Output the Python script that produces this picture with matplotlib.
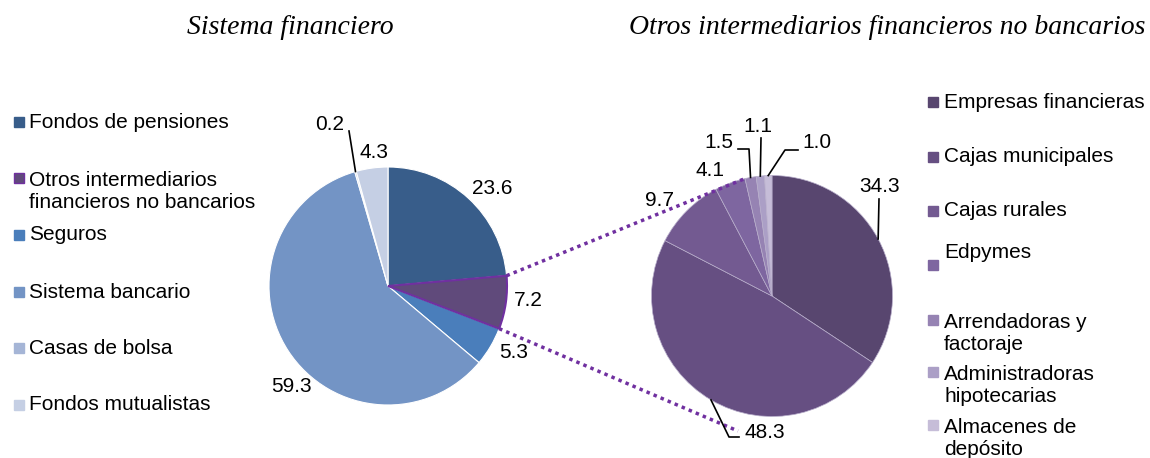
import numpy as np
import matplotlib
matplotlib.use("Agg")
import matplotlib.pyplot as plt
from matplotlib.patches import Rectangle

# ── data ─────────────────────────────────────
left_labels = ["Fondos de pensiones", "Otros intermediarios\nfinancieros no bancarios",
               "Seguros", "Sistema bancario", "Casas de bolsa", "Fondos mutualistas"]
left_values = [23.6, 7.2, 5.3, 59.3, 0.2, 4.3]
left_colors = ["#385D8A", "#604A7B", "#4A7EBB", "#7394C5", "#A5B5D6", "#C5CFE4"]

right_labels = ["Empresas financieras", "Cajas municipales", "Cajas rurales", "Edpymes",
                "Arrendadoras y\nfactoraje", "Administradoras\nhipotecarias",
                "Almacenes de\ndepósito"]
right_values = [34.3, 48.3, 9.7, 4.1, 1.5, 1.1, 1.0]
right_colors = ["#58466F", "#664F82", "#735A91", "#7E66A0", "#9683B3", "#AB9FC6", "#C6BDD8"]

W, H = 1150, 458
plt.rcParams["font.family"] = ["Liberation Sans", "DejaVu Sans"]
FS = 15

fig = plt.figure(figsize=(W / 100, H / 100), dpi=100)
ax = fig.add_axes([0, 0, 1, 1])

def py(y):  # pixel row -> data y
    return H - y

c_left, r_left = (388, py(286)), 119
c_right, r_right = (772, py(296)), 120.5

wl, _ = ax.pie(left_values, colors=left_colors, startangle=90, counterclock=False,
               center=c_left, radius=r_left, frame=True,
               wedgeprops=dict(edgecolor="white", linewidth=0.8))
wl[1].set_edgecolor("#7030A0")
wl[1].set_linewidth(1.5)
wl[1].set_zorder(3)

wr, _ = ax.pie(right_values, colors=right_colors, startangle=90, counterclock=False,
               center=c_right, radius=r_right, frame=True,
               wedgeprops=dict(edgecolor="#B8AECB", linewidth=0.5))
ax.set_xlim(0, W)
ax.set_ylim(0, H)
ax.set_aspect("equal")
ax.axis("off")

def edge_point(center, r, frac):
    ang = np.deg2rad(90 - 360 * frac)
    return center[0] + r * np.cos(ang), center[1] + r * np.sin(ang)

def mid_point(center, r, values, i):
    tot = sum(values)
    f = (sum(values[:i]) + values[i] / 2) / tot
    return edge_point(center, r, f)

# connector dotted lines
tot_l = sum(left_values)
p1 = edge_point(c_left, r_left, left_values[0] / tot_l)
p2 = edge_point(c_left, r_left, sum(left_values[:2]) / tot_l)
q1 = edge_point(c_right, r_right, sum(right_values[:4]) / sum(right_values))
q2 = (738, py(431))
ax.plot([p1[0], q1[0]], [p1[1], q1[1]], ls=(0, (1, 1.2)), color="#7030A0", lw=2.5, zorder=4)
ax.plot([p2[0], q2[0]], [p2[1], q2[1]], ls=(0, (1, 1.2)), color="#7030A0", lw=2.5, zorder=4)

# value labels (pixel positions of label centres)
left_pos = [(492, 188), (528, 300), (514, 352), (291, 387), (330, 125), (374, 153)]
right_pos = [(880, 186), (765, 432), (659, 200), (710, 171), (719, 143), (758, 127), (817, 143)]
for v, (x, y) in zip(left_values, left_pos):
    ax.text(x, py(y), f"{v:.1f}", fontsize=FS, ha="center", va="center", zorder=5)
for v, (x, y) in zip(right_values, right_pos):
    ax.text(x, py(y), f"{v:.1f}", fontsize=FS, ha="center", va="center", zorder=5)

# leader lines
def leader(pts, center, r, values, i):
    xs = [p[0] for p in pts]
    ys = [py(p[1]) for p in pts]
    e = mid_point(center, r, values, i)
    ax.plot(xs + [e[0]], ys + [e[1]], color="black", lw=1.2, zorder=5)

leader([(349, 131)], c_left, r_left, left_values, 4)
leader([(879, 199)], c_right, r_right, right_values, 0)
leader([(739, 437), (729, 437)], c_right, r_right, right_values, 1)
leader([(738, 149), (749, 149)], c_right, r_right, right_values, 4)
leader([(761, 138)], c_right, r_right, right_values, 5)
leader([(798, 150), (785, 150)], c_right, r_right, right_values, 6)

# legends
def legend_text(x, y, lab):
    if "\n" in lab:
        ax.text(x, py(y) + 7, lab, fontsize=FS, ha="left", va="top", linespacing=1.22)
    else:
        ax.text(x, py(y), lab, fontsize=FS, ha="left", va="center")

left_leg_y = [122, 178, 235, 292, 348, 405]
for lab, col, y in zip(left_labels, left_colors, left_leg_y):
    ec = "#7030A0" if col == left_colors[1] else col
    ax.add_patch(Rectangle((14, py(y) - 5), 10, 10, facecolor=col, edgecolor=ec, lw=1))
    legend_text(29, y, lab)

right_leg_y = [102, 157, 211, 265, 320, 372, 425]
for lab, col, y in zip(right_labels, right_colors, right_leg_y):
    ax.add_patch(Rectangle((928, py(y) - 5), 10, 10, facecolor=col, edgecolor=col, lw=1))
    legend_text(944, y - 12 if lab == "Edpymes" else y, lab)

# titles
ax.text(290, py(28), "Sistema financiero", fontsize=20, style="italic",
        family="Liberation Serif", ha="center", va="center")
ax.text(887, py(28), "Otros intermediarios financieros no bancarios", fontsize=20,
        style="italic", family="Liberation Serif", ha="center", va="center")

fig.savefig("out.png", dpi=100)
